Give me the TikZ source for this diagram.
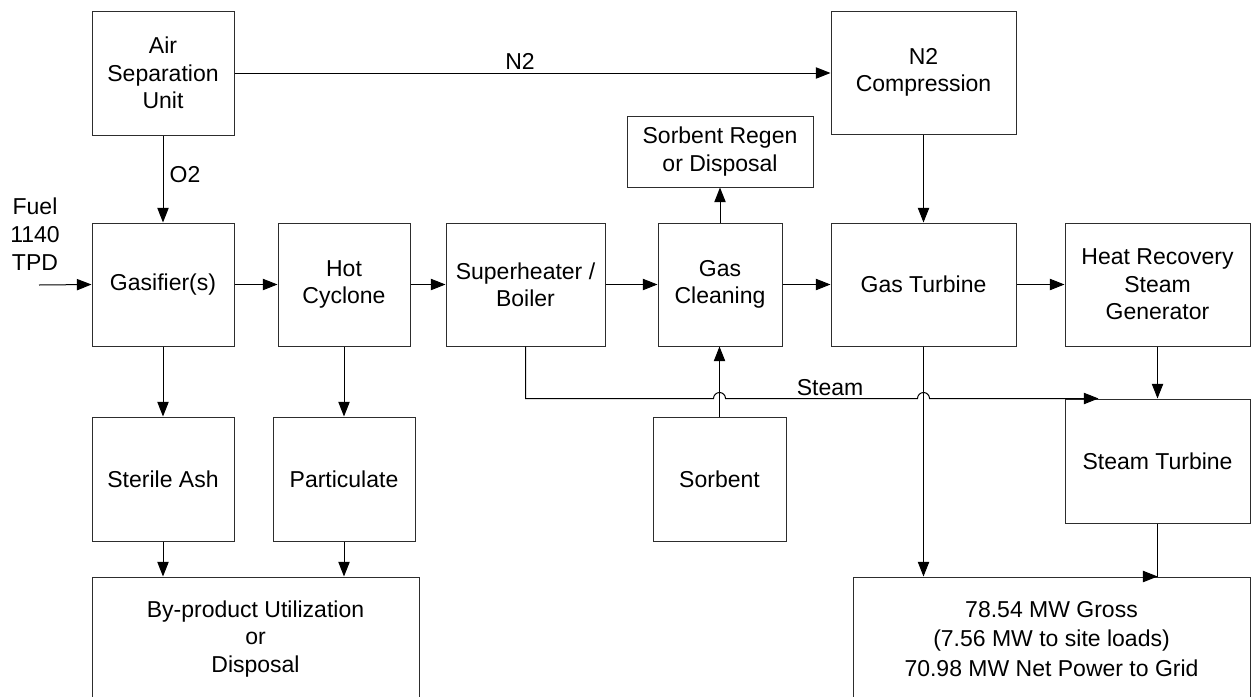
\documentclass[tikz,border=0pt]{standalone}
\usepackage{fontspec}
\setmainfont{Liberation Sans}
\usetikzlibrary{arrows.meta}

\newcommand{\blockfont}{\fontsize{17.25}{20.5}\selectfont}
\definecolor{boxgray}{RGB}{45,45,45}

\tikzset{every picture/.style={line width=0.75pt}}
\tikzset{
	blockbox/.style={draw=boxgray, align=center, inner sep=0pt, font=\blockfont},
	flow/.style={-{Triangle[length=11pt,width=8.5pt]}},
	flowlabel/.style={inner sep=0pt, align=center, font=\blockfont}}

\begin{document}
\begin{tikzpicture}[x=0.75pt,y=0.75pt,yscale=-1,xscale=1]
	\useasboundingbox (0,0) rectangle (1251,696);
	\clip (0,0) rectangle (1251,696);

	%Shape: Rectangle - top row
	\node [blockbox, minimum width=106.5pt, minimum height=93pt] (asu) at (163,73) {Air\\Separation\\Unit};
	\node [blockbox, minimum width=138.75pt, minimum height=92.25pt] (n2c) at (923.5,72.5) {N2\\Compression};
	\node [blockbox, minimum width=139.5pt, minimum height=53.25pt] (sregen) at (720,151.5) {Sorbent Regen\\or Disposal};

	%Shape: Rectangle - process row
	\node [blockbox, minimum width=106.5pt, minimum height=92.25pt] (gasif) at (163,284.5) {Gasifier(s)};
	\node [blockbox, minimum width=99pt, minimum height=92.25pt] (cyclone) at (344,284.5) {Hot\\Cyclone};
	\node [blockbox, minimum width=119.25pt, minimum height=92.25pt] (shb) at (525.5,284.5) {Superheater /\\Boiler};
	\node [blockbox, minimum width=93pt, minimum height=92.25pt] (gasclean) at (720,284.5) {Gas\\Cleaning};
	\node [blockbox, minimum width=138.75pt, minimum height=92.25pt] (gasturb) at (923.5,284.5) {Gas Turbine};
	\node [blockbox, minimum width=138.75pt, minimum height=92.25pt] (hrsg) at (1157.5,284.5) {Heat Recovery\\Steam\\Generator};

	%Shape: Rectangle - lower rows
	\node [blockbox, minimum width=106.5pt, minimum height=93pt] (ash) at (163,479) {Sterile Ash};
	\node [blockbox, minimum width=106.5pt, minimum height=93pt] (partic) at (344,479) {Particulate};
	\node [blockbox, minimum width=99.75pt, minimum height=93pt] (sorbent) at (719.5,479) {Sorbent};
	\node [blockbox, minimum width=138.75pt, minimum height=93pt] (stturb) at (1157.5,461) {Steam Turbine};
	\node [blockbox, minimum width=245.25pt, minimum height=93pt] (byprod) at (255.5,639) {By-product Utilization\\or\\Disposal};
	\node [blockbox, minimum width=297.75pt, minimum height=93pt, font=\fontsize{17.25}{22}\selectfont] (power) at (1051.5,639) {78.54 MW Gross\\(7.56 MW to site loads)\\70.98 MW Net Power to Grid};

	% Text Node
	\node [flowlabel, font=\fontsize{17.25}{21}\selectfont] (fuel) at (35,234) {Fuel\\1140\\TPD};
	\coordinate (fuelin) at (39,285);

	%Straight Lines
	\draw [flow] (asu.east) -- (asu.east -| n2c.west);
	\draw [flow] (asu.south) -- (gasif.north);
	\draw [flow] (fuelin) -- (gasif.west);
	\draw [flow] (gasif.east) -- (cyclone.west);
	\draw [flow] (cyclone.east) -- (shb.west);
	\draw [flow] (shb.east) -- (gasclean.west);
	\draw [flow] (gasclean.east) -- (gasturb.west);
	\draw [flow] (gasturb.east) -- (hrsg.west);
	\draw [flow] (gasclean.north) -- (sregen.south);
	\draw [flow] (n2c.south) -- (gasturb.north);
	\draw [flow] (gasif.south) -- (ash.north);
	\draw [flow] (cyclone.south) -- (partic.north);
	\draw [flow] (ash.south) -- (ash.south |- byprod.north);
	\draw [flow] (partic.south) -- (partic.south |- byprod.north);
	\draw [flow] (sorbent.north) -- (sorbent.north |- gasclean.south);
	\draw [flow] (gasturb.south) -- (gasturb.south |- power.north);
	\draw [flow] (hrsg.south) -- (stturb.north);
	\draw [flow] (stturb.south) -- (stturb.south |- power.north) -- ++(0.1,0);

	%Steam line with line hops
	\coordinate (hopA) at (sorbent.north |- stturb.north);
	\coordinate (hopB) at (gasturb.south |- stturb.north);
	\draw [flow] (shb.south) -- (shb.south |- stturb.north) -- ([xshift=-4.5pt]hopA) arc [start angle=180, end angle=360, radius=6] -- ([xshift=-4.5pt]hopB) arc [start angle=180, end angle=360, radius=6] -- ([xshift=25.5pt]stturb.north west);

	% Text Node
	\node [flowlabel] (n2lbl) at (520,61) {N2};
	% Text Node
	\node [flowlabel] (o2lbl) at (185,175) {O2};
	% Text Node
	\node [flowlabel] (steamlbl) at (830,388) {Steam};

\end{tikzpicture}
\end{document}
